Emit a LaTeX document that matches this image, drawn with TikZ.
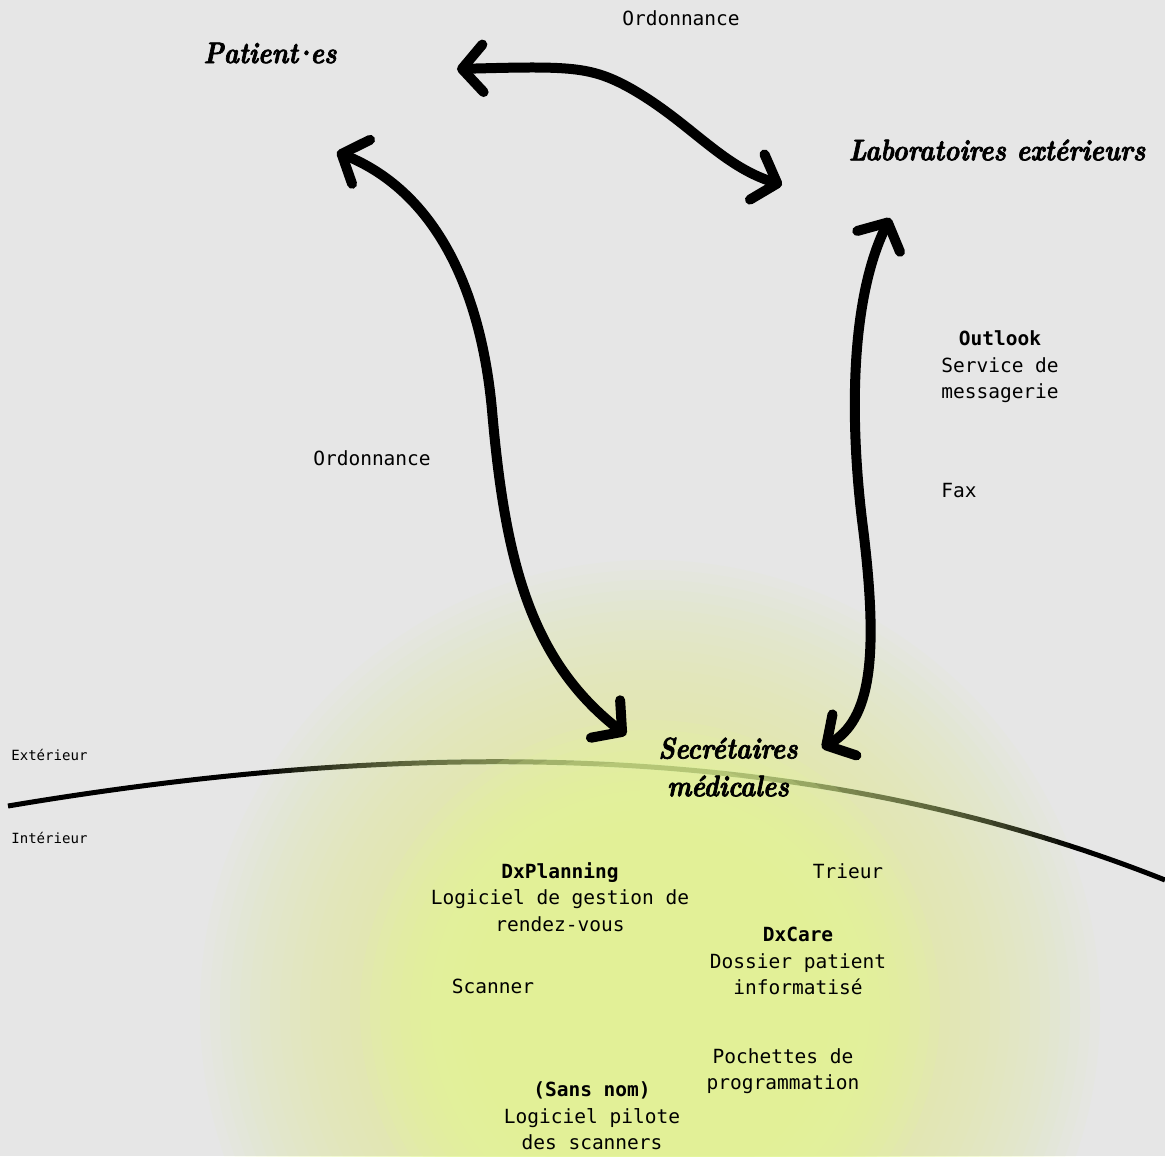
\documentclass[tikz,border=0pt]{standalone}
\usepackage{fontspec}
\setmonofont{DejaVu Sans Mono}
\newfontfamily\handfont[FakeStretch=0.86,FakeBold=2.2]{lmroman10-bolditalic.otf}
\usetikzlibrary{arrows.meta}
\definecolor{bgc}{RGB}{230,230,230}
\definecolor{glowc}{RGB}{226,246,150}
\begin{document}
\begin{tikzpicture}[x=0.02cm,y=-0.02cm,
    flow/.style={line width=0.2cm,{Straight Barb[length=4.2mm,width=9.5mm,round]}-{Straight Barb[length=4.2mm,width=9.5mm,round]}},
    title/.style={inner sep=0pt,align=center,font=\handfont\fontsize{17}{21.5}\selectfont},
    lbl/.style={inner sep=0pt,align=center,font=\ttfamily\fontsize{11.1}{15.1}\selectfont},
    tiny/.style={inner sep=0pt,font=\ttfamily\fontsize{8}{10}\selectfont}]
    \useasboundingbox (0,0) rectangle (1165,1156);
    \fill[bgc] (0,0) rectangle (1165,1156);
    % frontiere exterieur / interieur
    \draw[line width=0.1cm] (8,806) .. controls (400,740) and (800,735) .. (1165,880);
    % halo autour des secretaires
    \foreach \r in {450,440,...,300}
      \fill[glowc,opacity=0.05] (650,1010) circle[radius=\r];
    \foreach \r in {290,280,...,180}
      \fill[glowc,opacity=0.16] (650,1010) circle[radius=\r];
    \node[tiny,anchor=west] at (11,755) {Extérieur};
    \node[tiny,anchor=west] at (11,838) {Intérieur};
    % acteurs
    \node[title] (pat) at (270,53) {Patient\kern-3pt·\kern-3pt es};
    \node[title] (lab) at (997,150) {Laboratoires extérieurs};
    \node[title] (secr) at (728,767) {Secrétaires\\médicales};
    \coordinate (patR) at (457,69);
    \coordinate (patB) at (337,152);
    \coordinate (labL) at (782,185);
    \coordinate (labB) at (890,218);
    \coordinate (secrL) at (626,735);
    \coordinate (secrR) at (822,748);
    \draw[flow] (patR) .. controls (570,66) and (590,66) .. (630,88)
        .. controls (690,122) and (720,165) .. (labL);
    \draw[flow] (patB) .. controls (430,190) and (480,280) .. (492,410)
        .. controls (505,560) and (530,660) .. (secrL);
    \draw[flow] (labB) .. controls (850,300) and (850,420) .. (862,520)
        .. controls (880,660) and (870,720) .. (secrR);
    % echanges
    \node[lbl] at (681,18) {Ordonnance};
    \node[lbl] at (372,458) {Ordonnance};
    \node[lbl] at (1000,367) {\textbf{Outlook}\\Service de\\messagerie};
    \node[lbl,anchor=west] at (941,491) {Fax};
    % outils internes
    \node[lbl] at (560,897) {\textbf{DxPlanning}\\Logiciel de gestion de\\rendez-vous};
    \node[lbl] at (848,871) {Trieur};
    \node[lbl] at (798,961) {\textbf{DxCare}\\Dossier patient\\informatisé};
    \node[lbl] at (493,986) {Scanner};
    \node[lbl] at (783,1071) {Pochettes de\\programmation};
    \node[lbl] at (592,1116) {\textbf{(Sans nom)}\\Logiciel pilote\\des scanners};
\end{tikzpicture}
\end{document}
